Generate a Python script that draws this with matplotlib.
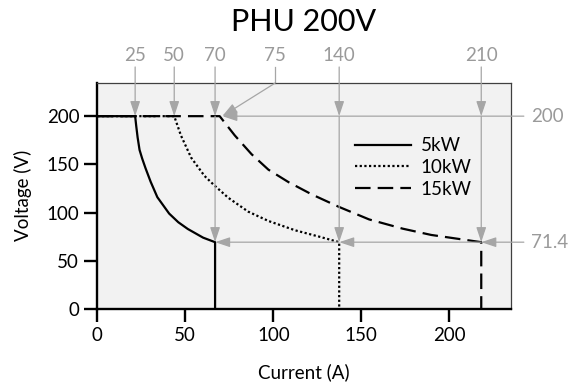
import matplotlib
matplotlib.use('Agg')
import matplotlib.pyplot as plt

plt.rcParams['font.family'] = ['Lato', 'DejaVu Sans']

# curves (current A, voltage V)
i_5kw = [0, 21.5, 22.1, 22.9, 24.0, 25.5, 27.4, 30.3, 34.1, 40.8, 46.0, 51.4, 60.1, 66.9, 66.9]
v_5kw = [200, 200, 190, 178, 165, 156, 146, 132, 116, 99, 90, 83, 74, 69.3, 0]
i_10kw = [0, 43.7, 47.5, 53.3, 60.9, 66.6, 74.3, 85.7, 97.2, 112.4, 125.9, 137.4, 137.4]
v_10kw = [200, 200, 180, 157, 138, 128, 115.5, 101, 91.3, 81.6, 75.1, 69.3, 0]
i_15kw = [0, 69.5, 78.1, 87.6, 97.2, 108.6, 122, 137.4, 154.4, 173.5, 189.7, 218.1, 218.1]
v_15kw = [200, 200, 180, 160.6, 144.5, 131.6, 118.7, 105.8, 92.9, 83.3, 76.8, 69.3, 0]

# annotation values: label text and where its arrow points
top_labels = ['25', '50', '70', '140', '210']
top_x = [21.5, 43.7, 66.9, 137.4, 218.1]
corner_label = '75'
corner_x = 101
v_max, v_min = 200, 69.3
end_x = [66.9, 137.4, 218.1]
right_labels = ['200', '71.4']

grey = '#a6a6a6'
label_grey = '#9a9a9a'
fs = 13.5

fig = plt.figure(figsize=(5.69, 3.87), dpi=100)
ax = fig.add_axes([97.3 / 569, 1 - 309 / 387, (511 - 97.3) / 569, (309 - 82.7) / 387])
ax.set_facecolor('#f2f2f2')
ax.set_xlim(0, 235)
ax.set_ylim(0, 234.7)

ax.plot(i_5kw, v_5kw, color='black', lw=1.6, label='5kW', zorder=3)
ax.plot(i_10kw, v_10kw, color='black', lw=1.6, linestyle=(0, (1, 1.1)), label='10kW', zorder=3)
ax.plot(i_15kw, v_15kw, color='black', lw=1.6, linestyle=(0, (7, 3.2)), label='15kW', zorder=3)

ax.set_xticks([0, 50, 100, 150, 200])
ax.set_yticks([0, 50, 100, 150, 200])
ax.tick_params(direction='out', length=9.5, width=1.7, labelsize=fs, pad=3.5)
for side in ['left', 'bottom']:
    ax.spines[side].set_linewidth(1.7)
for side in ['top', 'right']:
    ax.spines[side].set_linewidth(0.9)
    ax.spines[side].set_color('#404040')

ax.set_xlabel('Current (A)', fontsize=fs, labelpad=14)
ax.set_ylabel('Voltage (V)', fontsize=fs, labelpad=10)
fig.text(303.6 / 569, 1 - 21.7 / 387, 'PHU 200V', ha='center', va='center', fontsize=22)

arrow = dict(arrowstyle='-|>,head_length=0.9,head_width=0.3', color=grey, lw=0.9,
             shrinkA=0, shrinkB=0, mutation_scale=10)
label_y, start_y = 263.4, 251

for lab, x in zip(top_labels, top_x):
    ax.text(x, label_y, lab, ha='center', va='center', fontsize=fs, color=label_grey, clip_on=False)
    ax.annotate('', xy=(x, v_max), xytext=(x, start_y), arrowprops=arrow, annotation_clip=False)

# arrows down to the end of each curve
for x in end_x:
    ax.annotate('', xy=(x, v_min), xytext=(x, v_max), arrowprops=arrow, annotation_clip=False)

# horizontal arrows along 71.4 level
xs = [242.3] + end_x[::-1]
for a, b in zip(xs[:-1], xs[1:]):
    ax.annotate('', xy=(b, v_min), xytext=(a, v_min), arrowprops=arrow, annotation_clip=False)

# horizontal arrow along 200 level and the 75 elbow arrow
tip_x = 71
ax.annotate('', xy=(tip_x, v_max), xytext=(242.3, v_max), arrowprops=arrow, annotation_clip=False)
ax.text(corner_x, label_y, corner_label, ha='center', va='center', fontsize=fs, color=label_grey, clip_on=False)
ax.plot([corner_x, corner_x], [start_y, 234.3], color=grey, lw=0.9, clip_on=False)
ax.annotate('', xy=(tip_x, v_max), xytext=(corner_x, 234.3), arrowprops=arrow, annotation_clip=False)

ax.text(246.2, v_max, right_labels[0], ha='left', va='center', fontsize=fs, color=label_grey, clip_on=False)
ax.text(246.2, v_min, right_labels[1], ha='left', va='center', fontsize=fs, color=label_grey, clip_on=False)

ax.legend(loc='upper left', bbox_to_anchor=(0.6, 0.8), frameon=False, fontsize=fs,
          handlelength=3.0, handletextpad=0.5, labelspacing=0.25, borderpad=0)

fig.savefig('out.png', dpi=100)
